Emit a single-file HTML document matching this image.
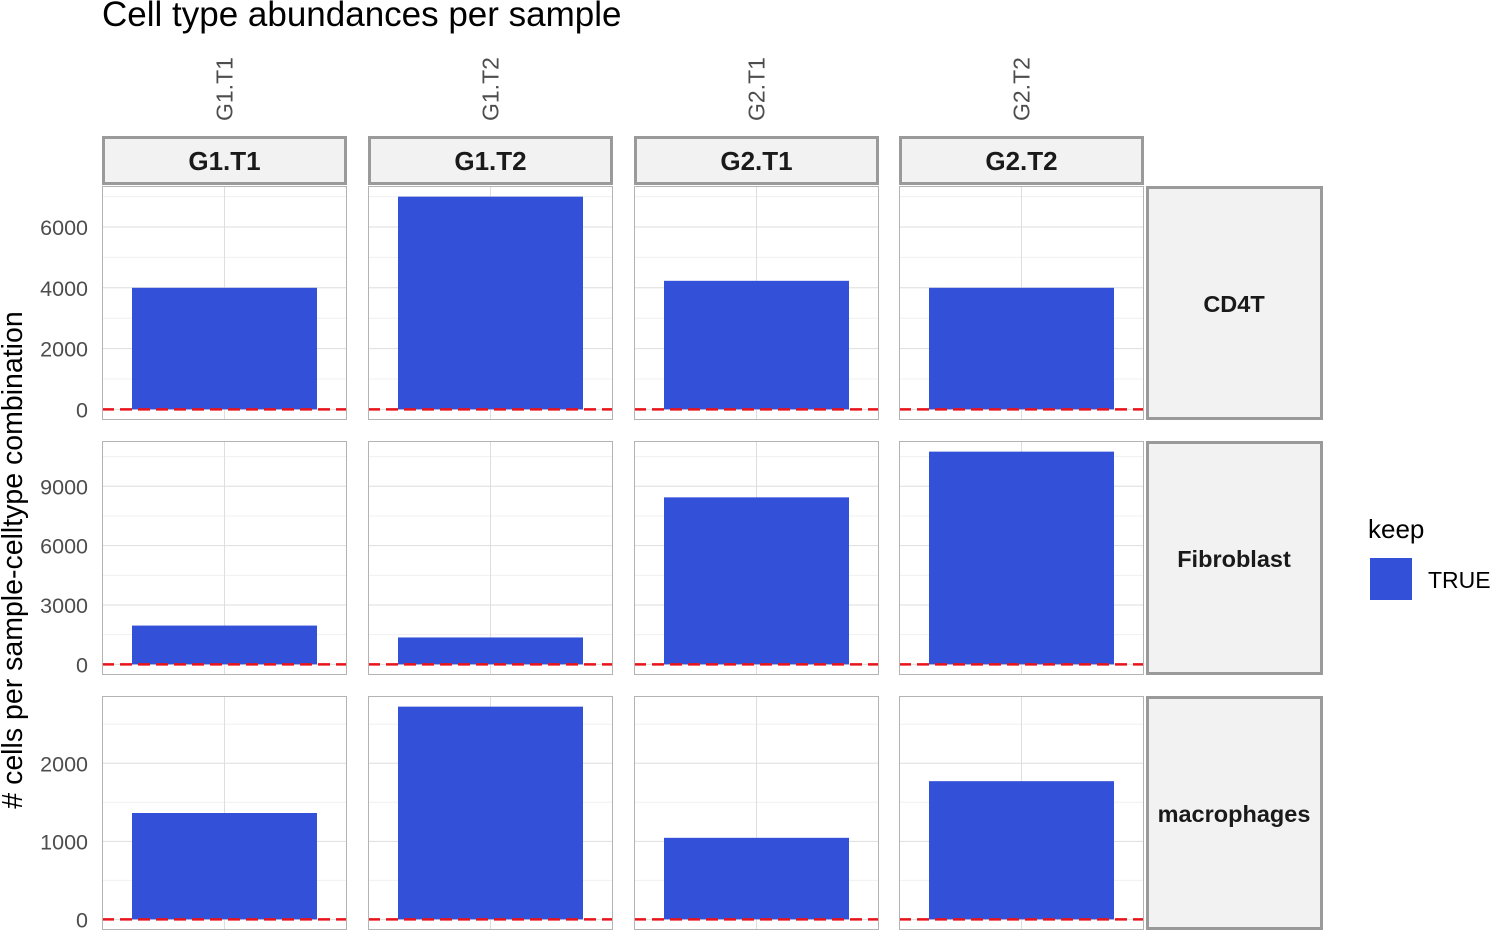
<!DOCTYPE html>
<html><head><meta charset="utf-8"><style>
body{margin:0;background:#fff;font-family:"Liberation Sans",Arial,sans-serif;}
</style></head><body>
<svg id="chart" width="1492" height="932" xmlns="http://www.w3.org/2000/svg">
<text x="102" y="26" font-size="35" fill="#000">Cell type abundances per sample</text>
<text transform="translate(22,560) rotate(-90)" text-anchor="middle" font-size="28.5" fill="#000"># cells per sample-celltype combination</text>
<text x="1368" y="538" font-size="26" fill="#000">keep</text>
<rect x="1370" y="558" width="42" height="42" fill="#3350d8"/>
<text x="1428" y="588" font-size="23" fill="#000">TRUE</text>
</svg>
<script>
const samples = ["G1.T1","G1.T2","G2.T1","G2.T2"];
const celltypes = ["CD4T","Fibroblast","macrophages"];
const cd4tValues = [4000, 7000, 4230, 4000];
const fibroblastValues = [1960, 1360, 8440, 10750];
const macrophageValues = [1363, 2726, 1045, 1771];
const cd4tTicks = [0, 2000, 4000, 6000];
const fibroblastTicks = [0, 3000, 6000, 9000];
const macrophageTicks = [0, 1000, 2000];
const threshold = 0;

const NS = "http://www.w3.org/2000/svg";
const svg = document.getElementById("chart");
function el(tag, attrs, parent) {
  const e = document.createElementNS(NS, tag);
  for (const k in attrs) e.setAttribute(k, attrs[k]);
  (parent || svg).appendChild(e);
  return e;
}
const colX = [102, 368, 634, 899];
const panelW = 245;
const rowY = [186, 441, 696];
const panelH = 234;
const rowValues = [cd4tValues, fibroblastValues, macrophageValues];
const rowTicks = [cd4tTicks, fibroblastTicks, macrophageTicks];

samples.forEach((s, c) => {
  const cx = colX[c] + panelW / 2;
  const t = el("text", {transform: `translate(${cx + 8},121) rotate(-90)`, "font-size": 23, fill: "#4d4d4d"});
  t.textContent = s;
  
  
  const r = el("rect", {x: colX[c] + 1.5, y: 137.5, width: panelW - 3, height: 46, fill: "#f2f2f2", stroke: "#9a9a9a", "stroke-width": 3});
  
  
  const st = el("text", {x: cx, y: 170, "text-anchor": "middle", "font-size": 26, "font-weight": "bold", fill: "#1a1a1a"});
  st.textContent = s;
  
  
});

celltypes.forEach((ct, r) => {
  const vals = rowValues[r];
  const max = Math.max(...vals, threshold);
  const lo = -max * 0.05, hi = max * 1.05;
  const y0 = rowY[r], y1 = rowY[r] + panelH;
  const yScale = v => y1 - (v - lo) / (hi - lo) * panelH;
  const ticks = rowTicks[r];
  const rs = el("rect", {x: 1147.5, y: y0 + 1.5, width: 174, height: panelH - 3, fill: "#f2f2f2", stroke: "#9a9a9a", "stroke-width": 3});
  
  
  const rt = el("text", {x: 1234, y: y0 + panelH / 2 + 9, "text-anchor": "middle", "font-size": 23.5, "font-weight": "bold", fill: "#1a1a1a"});
  rt.textContent = ct;
  
  
  ticks.forEach(t => {
    const tl = el("text", {x: 88, y: yScale(t) + 8, "text-anchor": "end", "font-size": 21.5, fill: "#4d4d4d"});
    tl.textContent = t;
    
    
  });
  samples.forEach((s, c) => {
    const x0 = colX[c];
    const g = el("g", {});
    
    
    const step = ticks[1] - ticks[0];
    for (let v = ticks[0] - step / 2; v < hi; v += step) {
      if (v < lo) continue;
      el("line", {x1: x0, x2: x0 + panelW, y1: yScale(v), y2: yScale(v), stroke: "#f0f0f0", "stroke-width": 1}, g);
    }
    ticks.forEach(t => {
      el("line", {x1: x0, x2: x0 + panelW, y1: yScale(t), y2: yScale(t), stroke: "#dedede", "stroke-width": 1}, g);
    });
    el("line", {x1: x0 + panelW / 2, x2: x0 + panelW / 2, y1: y0, y2: y1, stroke: "#dedede", "stroke-width": 1}, g);
    const b = el("rect", {x: x0 + 30, y: yScale(vals[c]), width: panelW - 60, height: yScale(0) - yScale(vals[c]), fill: "#3350d8"}, g);
    
    
    const ln = el("line", {x1: x0, x2: x0 + panelW, y1: yScale(threshold), y2: yScale(threshold), stroke: "#e8141c", "stroke-width": 2.5, "stroke-dasharray": "12,6"}, g);
    
    
    el("rect", {x: x0 + 0.5, y: y0 + 0.5, width: panelW - 1, height: panelH - 1, fill: "none", stroke: "#b3b3b3", "stroke-width": 1}, g);
  });
});
</script>
</body></html>
